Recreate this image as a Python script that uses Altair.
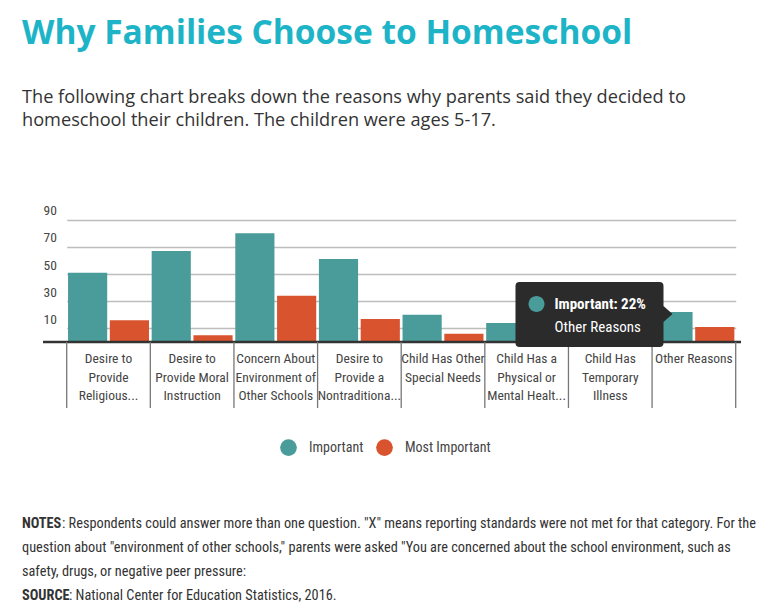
import altair as alt
import pandas as pd

FONT = "'Liberation Sans Narrow', 'Roboto Condensed', Roboto, sans-serif"
FONT_T = "'Open Sans', Roboto, sans-serif"

categories = [
    "Desire to\nProvide\nReligious...",
    "Desire to\nProvide Moral\nInstruction",
    "Concern About\nEnvironment of\nOther Schools",
    "Desire to\nProvide a\nNontraditiona...",
    "Child Has Other\nSpecial Needs",
    "Child Has a\nPhysical or\nMental Healt...",
    "Child Has\nTemporary\nIllness",
    "Other Reasons",
]
series = ["Important", "Most Important"]
important = [51, 67, 80, 61, 20, 14, 4, 22]
most_important = [16, 5, 34, 17, 6, 5, None, 11]
colors = ["#4a9c9b", "#d9542e"]
y_ticks = [10, 30, 50, 70, 90]

title_text = "Why Families Choose to Homeschool"
subtitle_text = ("The following chart breaks down the reasons why parents said they decided to\n"
                 "homeschool their children. The children were ages 5-17.")
notes_lines = [
    ("NOTES", ": Respondents could answer more than one question. \"X\" means reporting standards were not met for that category. For the"),
    ("", "question about \"environment of other schools,\" parents were asked \"You are concerned about the school environment, such as"),
    ("", "safety, drugs, or negative peer pressure:"),
    ("SOURCE", ": National Center for Education Statistics, 2016."),
]
tooltip_cat = "Other Reasons"
tooltip_series = "Important"
tooltip_value = 22

rows = []
for c, a, b in zip(categories, important, most_important):
    rows.append({"cat": c, "series": series[0], "value": a})
    rows.append({"cat": c, "series": series[1], "value": b})
df = pd.DataFrame(rows)
cat_df = pd.DataFrame({"cat": categories})

W, H = 696, 136

x_scale = alt.Scale(domain=categories, range=[23.7, 692.7], paddingInner=0, paddingOuter=0)
x_enc = alt.X("cat:N", sort=categories, scale=x_scale, axis=None)
xo_enc = alt.XOffset("series:N", sort=series,
                     scale=alt.Scale(domain=series, paddingInner=0.0625, paddingOuter=0.032))
y_enc = alt.Y("value:Q", scale=alt.Scale(domain=[0, 100], nice=False),
              axis=alt.Axis(values=y_ticks, grid=True, gridColor="#bdbdbd", gridWidth=1.5,
                            domain=False, ticks=False, tickSize=0, labelAlign="left",
                            labelBaseline="alphabetic", labelOffset=-5, labelPadding=0,
                            labelFontSize=13.5, labelColor="#444", labelFont=FONT, title=None))

bars = alt.Chart(df).mark_bar().encode(
    x=x_enc, xOffset=xo_enc, y=y_enc,
    color=alt.Color("series:N", sort=series,
                    scale=alt.Scale(domain=series, range=colors),
                    legend=alt.Legend(orient="none", legendX=237, legendY=233,
                                      direction="horizontal", title=None,
                                      symbolType="circle", symbolSize=280,
                                      symbolStrokeWidth=0, labelFontSize=14,
                                      labelFont=FONT, labelColor="#444",
                                      labelOffset=12, columnPadding=12, padding=0)),
)

baseline = alt.Chart(pd.DataFrame({"value": [0]})).mark_rule(
    color="#333", strokeWidth=2.5).encode(
    y=y_enc, x=alt.value(0), x2=alt.value(W + 2))

seps = alt.Chart(cat_df).mark_rule(color="#777", strokeWidth=1.3).encode(
    x=alt.X("cat:N", sort=categories, scale=x_scale, axis=None, bandPosition=0),
    y=alt.value(H), y2=alt.value(H + 66))
sep_end = alt.Chart(cat_df.tail(1)).mark_rule(color="#777", strokeWidth=1.3).encode(
    x=alt.X("cat:N", sort=categories, scale=x_scale, axis=None, bandPosition=1),
    y=alt.value(H), y2=alt.value(H + 66))

xlabels = alt.Chart(cat_df).mark_text(
    baseline="top", align="center", lineBreak="\n", lineHeight=18.5,
    fontSize=13.5, font=FONT, color="#444").encode(
    x=x_enc, y=alt.value(H + 10), text="cat:N")

# tooltip anchored on the "Other Reasons / Important" bar top
tip_df = pd.DataFrame({"cat": [tooltip_cat], "series": [tooltip_series], "value": [tooltip_value]})
tip_path = ("M -1.535 -0.30 L -0.135 -0.30 Q -0.095 -0.30 -0.095 -0.26 L -0.095 -0.06 "
            "L -0.005 0.02 L -0.095 0.10 L -0.095 0.31 Q -0.095 0.35 -0.135 0.35 "
            "L -1.535 0.35 Q -1.575 0.35 -1.575 0.31 L -1.575 -0.26 Q -1.575 -0.30 -1.535 -0.30 Z")
dot_path = ("M -1.285 -0.08 A 0.08 0.08 0 1 1 -1.445 -0.08 "
            "A 0.08 0.08 0 1 1 -1.285 -0.08 Z")
tip_box = alt.Chart(tip_df).mark_point(
    shape=tip_path, size=40000, filled=True, fill="#2b2b2b", opacity=1, strokeWidth=0).encode(
    x=x_enc, xOffset=xo_enc, y=y_enc)
tip_dot = alt.Chart(tip_df).mark_point(
    shape=dot_path, size=40000, filled=True, opacity=1, strokeWidth=0).encode(
    x=x_enc, xOffset=xo_enc, y=y_enc,
    color=alt.Color("series:N", sort=series, scale=alt.Scale(domain=series, range=colors)))
tip_t1 = alt.Chart(tip_df).transform_calculate(
    lab="datum.series + ': ' + datum.value + '%'").mark_text(
    align="left", baseline="middle", dx=-118.5, dy=-8, fontSize=15, fontWeight="bold",
    font=FONT, color="white").encode(x=x_enc, xOffset=xo_enc, y=y_enc, text="lab:N")
tip_t2 = alt.Chart(tip_df).mark_text(
    align="left", baseline="middle", dx=-118.5, dy=14.5, fontSize=15,
    font=FONT, color="white").encode(x=x_enc, xOffset=xo_enc, y=y_enc, text="cat:N")

title = alt.Chart(pd.DataFrame({"t": [title_text]})).mark_text(
    align="left", baseline="alphabetic", fontSize=33.5, fontWeight="bold",
    font=FONT_T, color="#1db4c8").encode(text="t:N", x=alt.value(-21), y=alt.value(-162))
subtitle = alt.Chart(pd.DataFrame({"t": [subtitle_text]})).mark_text(
    align="left", baseline="alphabetic", fontSize=18.2, lineBreak="\n", lineHeight=23.5,
    font=FONT_T, color="#333").encode(text="t:N", x=alt.value(-21), y=alt.value(-103.5))

note_layers = []
note_y = [318, 342, 366, 390]
bold_w = {"NOTES": 40, "SOURCE": 47}
for (b, rest), yy in zip(notes_lines, note_y):
    if b:
        note_layers.append(alt.Chart(pd.DataFrame({"t": [b]})).mark_text(
            align="left", baseline="middle", fontSize=14.3, fontWeight="bold",
            font=FONT, color="#333").encode(text="t:N", x=alt.value(-21), y=alt.value(yy)))
    note_layers.append(alt.Chart(pd.DataFrame({"t": [rest]})).mark_text(
        align="left", baseline="middle", fontSize=14.3,
        font=FONT, color="#333").encode(text="t:N", x=alt.value(-21 + bold_w.get(b, 0)),
                                        y=alt.value(yy)))

chart = alt.layer(
    bars, baseline, seps, sep_end, xlabels, tip_box, tip_dot, tip_t1, tip_t2,
    title, subtitle, *note_layers
).properties(
    width=W, height=H,
    autosize=alt.AutoSizeParams(type="none"),
    padding={"left": 35, "top": 198, "right": 32, "bottom": 260},
    background="white",
).configure_view(strokeWidth=0)

chart.save("out.html", embed_options={"renderer": "svg", "actions": False})
